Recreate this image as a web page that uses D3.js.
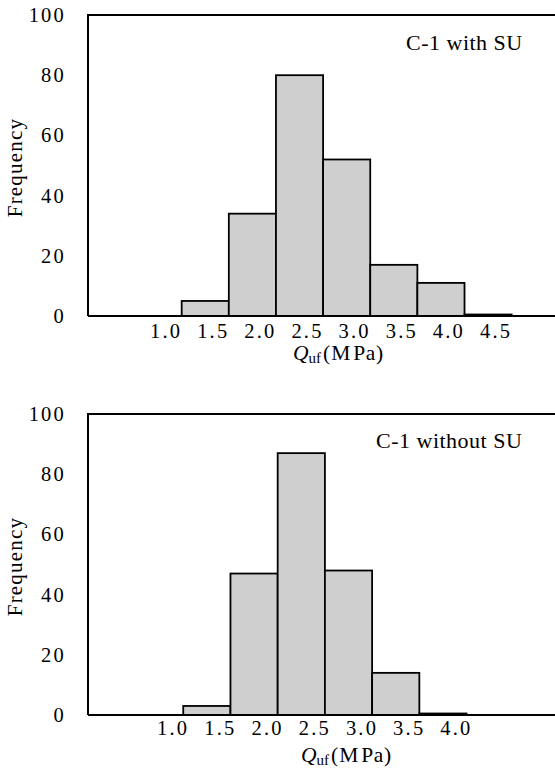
<!DOCTYPE html>
<html>
<head>
<meta charset="utf-8">
<script src="https://cdn.jsdelivr.net/npm/d3@7"></script>
<style>
  html, body { margin: 0; padding: 0; background: #fff; }
  svg { display: block; }
  svg text { font-family: "Liberation Serif", "DejaVu Serif", serif; }
</style>
</head>
<body>
<svg id="chart" width="555" height="771"></svg>
<script>
// Histogram bins (Q_uf, MPa) and labelled bins
const bins = ["0.5", "1.0", "1.5", "2.0", "2.5", "3.0", "3.5", "4.0", "4.5", "5.0"];
const labelsWithSU = ["1.0", "1.5", "2.0", "2.5", "3.0", "3.5", "4.0", "4.5"];
const labelsWithoutSU = ["1.0", "1.5", "2.0", "2.5", "3.0", "3.5", "4.0"];

// Frequencies per bin
const freqWithSU = [0, 0, 5, 34, 80, 52, 17, 11, 0.5, 0];
const freqWithoutSU = [0, 0, 3, 47, 87, 48, 14, 0.5, 0, 0];

const yTicks = [0, 20, 40, 60, 80, 100];

const SERIF = "Liberation Serif, DejaVu Serif, serif";
const svg = d3.select("#chart");

function drawPanel(opt) {
  const g = svg.append("g");
  const y = d3.scaleLinear().domain([0, 100]).range([opt.bottom, opt.top]);
  const x = d3.scaleBand().domain(bins).range(opt.barRange).paddingInner(0).paddingOuter(0);

  // bars
  g.selectAll("rect.bar")
    .data(bins.map((b, i) => ({ bin: b, v: opt.values[i] })).filter(d => d.v > 0))
    .join("rect")
    .attr("class", "bar")
    .attr("x", d => x(d.bin))
    .attr("width", x.bandwidth())
    .attr("y", d => y(d.v))
    .attr("height", d => opt.bottom - y(d.v))
    .attr("fill", "#d0cfcf")
    .attr("stroke", "#000")
    .attr("stroke-width", 1.8);

  // frame: left, top and baseline
  g.append("path")
    .attr("d", `M${opt.left},${opt.bottom}V${opt.top}H${opt.right}`)
    .attr("fill", "none").attr("stroke", "#000").attr("stroke-width", 2);
  g.append("line")
    .attr("x1", opt.left).attr("x2", opt.right)
    .attr("y1", opt.bottom).attr("y2", opt.bottom)
    .attr("stroke", "#000").attr("stroke-width", 2);

  // y axis labels
  const yAxis = d3.axisLeft(y).tickValues(yTicks).tickSize(0).tickPadding(22);
  const ya = g.append("g").attr("transform", `translate(${opt.left},0)`).call(yAxis);
  ya.attr("font-family", SERIF);
  ya.select(".domain").remove();
  ya.selectAll("text")
    .attr("font-family", SERIF)
    .attr("font-size", 20.5)
    .attr("fill", "#000")
    .style("letter-spacing", "2.2px");

  // x axis labels
  const xAxis = d3.axisBottom(x).tickValues(opt.labels).tickSize(0).tickPadding(0);
  const xa = g.append("g").attr("transform", `translate(0,${opt.bottom})`).call(xAxis);
  xa.attr("font-family", SERIF);
  xa.select(".domain").remove();
  xa.selectAll("text")
    .attr("font-family", SERIF)
    .attr("font-size", 20.5)
    .attr("fill", "#000")
    .attr("dy", null)
    .attr("y", opt.xLabelY)
    .attr("dx", opt.xLabelDx)
    .style("letter-spacing", "2.2px");

  // y axis title
  g.append("text")
    .attr("transform", `translate(22,${(opt.top + opt.bottom) / 2 + 2}) rotate(-90)`)
    .attr("text-anchor", "middle")
    .attr("font-family", SERIF)
    .attr("font-size", 21)
    .style("letter-spacing", "1.2px")
    .text("Frequency");

  // x axis title: Q_uf (MPa)
  const t = g.append("text")
    .attr("x", opt.xTitleX)
    .attr("y", opt.xTitleY)
    .attr("font-family", SERIF)
    .attr("font-size", 21.5);
  t.append("tspan").attr("font-style", "italic").text("Q");
  t.append("tspan").attr("font-size", 15).attr("dy", 3).text("uf");
  t.append("tspan").attr("dy", -3).attr("dx", 2).style("letter-spacing", "1px").text("(M");
  t.append("tspan").attr("dx", 2).style("letter-spacing", "0.6px").text("Pa)");

  // panel annotation
  g.append("text")
    .attr("x", opt.noteX)
    .attr("y", opt.noteY)
    .attr("font-family", SERIF)
    .attr("font-size", 22)
    .style("letter-spacing", "0.5px")
    .text(opt.note);
}

drawPanel({
  values: freqWithSU,
  labels: labelsWithSU,
  left: 88, right: 560, top: 15, bottom: 316,
  barRange: [87.4, 558.8],
  xLabelY: 21.5, xLabelDx: 8,
  xTitleX: 293, xTitleY: 360,
  note: "C-1 with SU", noteX: 406, noteY: 50
});

drawPanel({
  values: freqWithoutSU,
  labels: labelsWithoutSU,
  left: 88, right: 560, top: 414, bottom: 715,
  barRange: [88.8, 561],
  xLabelY: 20, xLabelDx: 13.5,
  xTitleX: 301, xTitleY: 762,
  note: "C-1 without SU", noteX: 376, noteY: 448
});
</script>
</body>
</html>
